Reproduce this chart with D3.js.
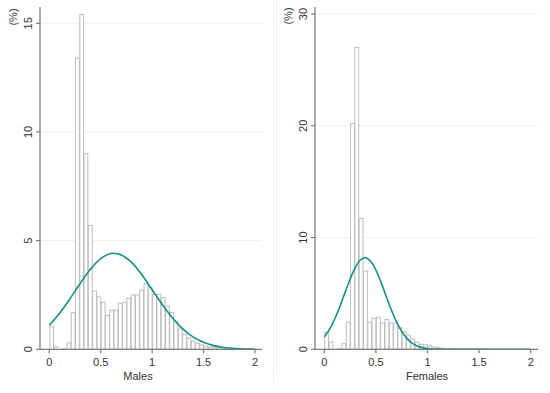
<!DOCTYPE html>
<html>
<head>
<meta charset="utf-8">
<script src="https://cdn.jsdelivr.net/npm/d3@7"></script>
<style>
  html, body { margin: 0; padding: 0; background: #fff; }
  svg { display: block; font-family: "Liberation Sans", Arial, sans-serif; }
  .tick-label { font-size: 11px; fill: #333; }
  .axis-title { font-size: 11px; fill: #333; }
</style>
</head>
<body>
<div id="chart"></div>
<script>
// histogram bins, 48 equal bins over [0, 2], in percent
const maleBins = [1.07, 0.12, 0, 0.03, 0.3, 1.69, 13.4, 15.4, 9.0, 5.7,
  2.68, 2.41, 2.16, 1.56, 1.8, 1.8, 2.12, 2.15, 2.35, 2.5,
  2.5, 2.72, 3.02, 2.84, 2.52, 2.52, 2.38, 2.0, 1.7, 1.29,
  0.98, 0.69, 0.51, 0.38, 0.28, 0.2, 0.14, 0.11, 0.09, 0.08,
  0.06, 0.07, 0.05, 0.03, 0.02, 0.02, 0.01, 0.01];
const femaleBins = [1.52, 0.66, 0, 0.06, 0.5, 2.42, 20.2, 27.0, 11.7, 7.0,
  2.42, 2.78, 2.87, 2.36, 2.66, 2.36, 2.33, 1.94, 1.58, 1.28,
  0.93, 0.63, 0.45, 0.39, 0.3, 0.2, 0.15, 0.09, 0.06, 0.04,
  0.03, 0.02, 0.02, 0.01, 0.01, 0.01, 0.01, 0.01, 0, 0,
  0, 0, 0, 0, 0, 0, 0, 0];

// fitted density overlay
const maleCurveX = [0, 0.1, 0.2, 0.3, 0.4, 0.5, 0.6, 0.7, 0.8, 0.9, 1.0,
  1.1, 1.2, 1.3, 1.4, 1.5, 1.6, 1.7, 1.8, 1.9, 2.0];
const maleCurveY = [1.11, 1.66, 2.32, 3.03, 3.68, 4.17, 4.41, 4.34, 4.0, 3.43, 2.74,
  2.05, 1.43, 0.93, 0.56, 0.32, 0.17, 0.08, 0.04, 0.016, 0.006];
const femaleCurveX = [0, 0.05, 0.1, 0.15, 0.2, 0.25, 0.3, 0.35, 0.4, 0.45, 0.5,
  0.55, 0.6, 0.65, 0.7, 0.75, 0.8, 0.85, 0.9, 0.95, 1.0, 1.1, 1.2, 1.4, 1.6, 1.8, 2.0];
const femaleCurveY = [1.11, 1.78, 2.69, 3.8, 5.05, 6.27, 7.31, 7.99, 8.19, 7.86, 7.09,
  5.99, 4.74, 3.52, 2.45, 1.6, 0.98, 0.56, 0.3, 0.15, 0.07, 0.013, 0.002, 0, 0, 0, 0];

const xTicks = [0, 0.5, 1, 1.5, 2];
const maleYTicks = [0, 5, 10, 15];
const femaleYTicks = [0, 10, 20, 30];
const xTickLabels = ["0", "0.5", "1", "1.5", "2"];

const WIDTH = 550;
const HEIGHT = 393;
const X_MIN = 0;
const X_MAX = 2;
const BAR_COLOR = "#bdbdbd";
const CURVE_COLOR = "#10918a";
const AXIS_COLOR = "#7d7d7d";
const GRID_COLOR = "#e6f2f4";

const svg = d3.select("#chart")
  .append("svg")
  .attr("width", WIDTH)
  .attr("height", HEIGHT)
  .attr("viewBox", `0 0 ${WIDTH} ${HEIGHT}`);

// faint panel borders
svg.append("line")
  .attr("x1", 273.5).attr("x2", 273.5).attr("y1", 0).attr("y2", 385)
  .attr("stroke", "#e8f1f4").attr("stroke-width", 1);
svg.append("line")
  .attr("x1", 276.5).attr("x2", 276.5).attr("y1", 0).attr("y2", 375)
  .attr("stroke", "#eef5f7").attr("stroke-width", 1);

function drawPanel(opts) {
  const g = svg.append("g");
  const x = d3.scaleLinear().domain([X_MIN, X_MAX]).range([opts.x0, opts.x2]);
  const y = d3.scaleLinear().domain([0, opts.yTop]).range([opts.base, opts.yTopPx]);
  const binWidth = (X_MAX - X_MIN) / opts.bins.length;

  // grid lines
  g.append("g")
    .selectAll("line")
    .data(opts.yTicks.filter((t) => t > 0))
    .enter()
    .append("line")
    .attr("x1", opts.axisX)
    .attr("x2", opts.plotRight)
    .attr("y1", (t) => y(t))
    .attr("y2", (t) => y(t))
    .attr("stroke", GRID_COLOR)
    .attr("stroke-width", 1);

  // histogram bars
  g.append("g")
    .selectAll("rect")
    .data(opts.bins)
    .enter()
    .append("rect")
    .attr("x", (d, i) => x(X_MIN + i * binWidth) + 0.5)
    .attr("y", (d) => y(d))
    .attr("width", (d, i) => x(X_MIN + (i + 1) * binWidth) - x(X_MIN + i * binWidth) - 0.5)
    .attr("height", (d) => Math.max(0, y(0) - y(d)))
    .attr("fill", "#fff")
    .attr("stroke", BAR_COLOR)
    .attr("stroke-width", 1);

  // fitted curve
  const line = d3.line()
    .x((d) => x(d[0]))
    .y((d) => y(d[1]))
    .curve(d3.curveCatmullRom.alpha(0.5));
  g.append("path")
    .datum(opts.curveX.map((v, i) => [v, opts.curveY[i]]))
    .attr("d", line)
    .attr("fill", "none")
    .attr("stroke", CURVE_COLOR)
    .attr("stroke-width", 1.6);

  // y axis
  g.append("line")
    .attr("x1", opts.axisX).attr("x2", opts.axisX)
    .attr("y1", opts.axisTop).attr("y2", y(0))
    .attr("stroke", AXIS_COLOR).attr("stroke-width", 1.3);
  g.append("g")
    .selectAll("line")
    .data(opts.yTicks)
    .enter()
    .append("line")
    .attr("x1", opts.axisX - 4).attr("x2", opts.axisX)
    .attr("y1", (t) => y(t)).attr("y2", (t) => y(t))
    .attr("stroke", AXIS_COLOR).attr("stroke-width", 1.2);
  g.append("g")
    .selectAll("text")
    .data(opts.yTicks)
    .enter()
    .append("text")
    .attr("class", "tick-label")
    .attr("text-anchor", "middle")
    .attr("transform", (t) => `translate(${opts.axisX - 8},${y(t)}) rotate(-90)`)
    .text((t) => t);

  // x axis
  g.append("line")
    .attr("x1", opts.axisX).attr("x2", opts.plotRight)
    .attr("y1", y(0)).attr("y2", y(0))
    .attr("stroke", AXIS_COLOR).attr("stroke-width", 1.3);
  g.append("g")
    .selectAll("line")
    .data(xTicks)
    .enter()
    .append("line")
    .attr("x1", (t) => x(t)).attr("x2", (t) => x(t))
    .attr("y1", y(0)).attr("y2", y(0) + 4)
    .attr("stroke", AXIS_COLOR).attr("stroke-width", 1.2);
  g.append("g")
    .selectAll("text")
    .data(xTicks)
    .enter()
    .append("text")
    .attr("class", "tick-label")
    .attr("text-anchor", "middle")
    .attr("x", (t) => x(t))
    .attr("y", y(0) + 17)
    .text((t, i) => xTickLabels[i]);

  // titles
  g.append("text")
    .attr("class", "axis-title")
    .attr("text-anchor", "middle")
    .attr("x", opts.titleX)
    .attr("y", y(0) + 31)
    .text(opts.title);
  g.append("text")
    .attr("class", "axis-title")
    .attr("text-anchor", "middle")
    .attr("transform", `translate(${opts.axisX - 23},${opts.pctY}) rotate(-90)`)
    .text("(%)");
}

drawPanel({
  bins: maleBins, curveX: maleCurveX, curveY: maleCurveY,
  yTicks: maleYTicks, yTop: 15, title: "Males", titleX: 138,
  axisX: 40, plotRight: 262, x0: 49.3, x2: 255,
  base: 349.3, yTopPx: 23.3, axisTop: 7, pctY: 17
});

drawPanel({
  bins: femaleBins, curveX: femaleCurveX, curveY: femaleCurveY,
  yTicks: femaleYTicks, yTop: 30, title: "Females", titleX: 427,
  axisX: 315, plotRight: 538, x0: 324.3, x2: 530.7,
  base: 349.3, yTopPx: 14, axisTop: 7, pctY: 16
});
</script>
</body>
</html>
